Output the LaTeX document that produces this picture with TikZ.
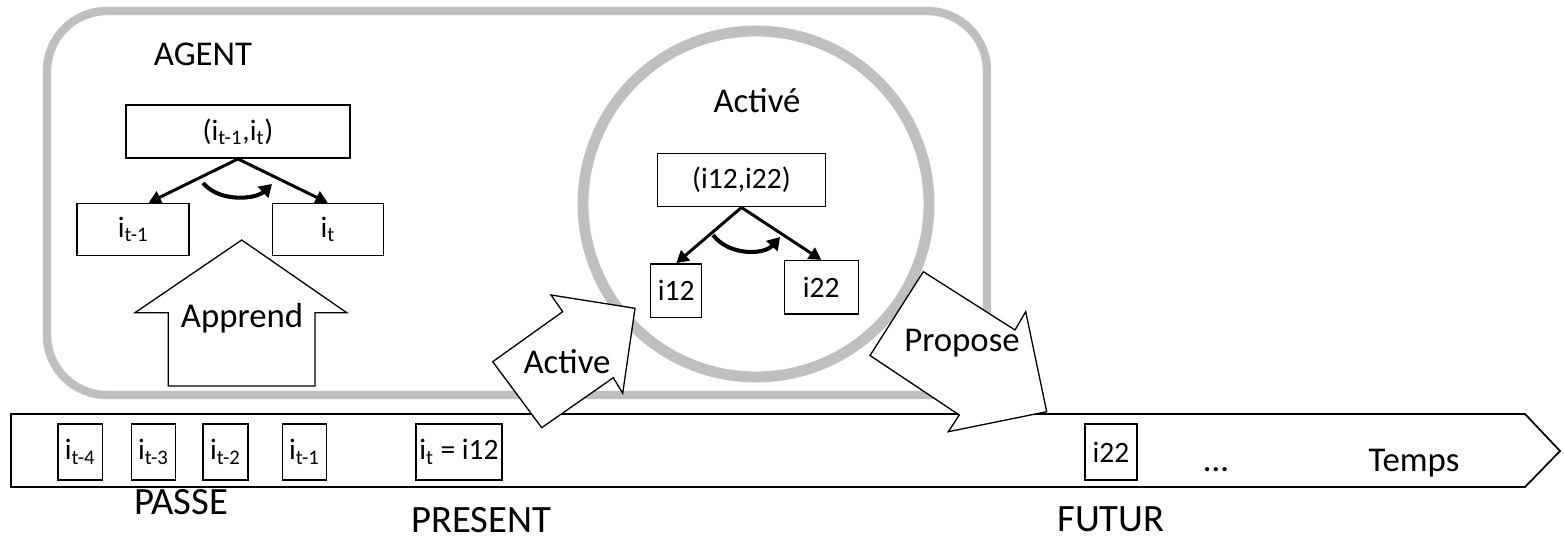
\documentclass[tikz,border=0pt]{standalone}
\usepackage{fontspec}
\setmainfont{Carlito}
\usetikzlibrary{arrows.meta, positioning, calc}

\begin{document}
\begin{tikzpicture}[
    x=0.02cm, y=-0.02cm,
    box/.style={draw, line width=0.85pt, inner sep=0pt, font=\fontsize{16.8}{19}\selectfont},
    title/.style={font=\fontsize{19.8}{23}\selectfont},
    era/.style={inner sep=0pt, font=\fontsize{22}{25}\selectfont},
    shell/.style={draw=black!25, line width=4.8pt},
    arr/.style={-{Triangle[length=7pt,width=7.5pt]}, line width=1.7pt},
    bendarr/.style={-{Triangle[length=7pt,width=8.5pt]}, line width=2.3pt},
    bigarrow/.style={draw, fill=white, line width=0.75pt, line join=miter}
]
\useasboundingbox (0,0) rectangle (1564,537);

% agent and activated pair
\draw[shell, rounded corners=1.2cm] (47,11) rectangle (987,395);
\draw[shell, line width=6.2pt] (756,204) circle[radius=173];
\node[title] (agent) at (203,54) {AGENT};
\node[title] (activated) at (757,101) {Activé};

% learned pair
\node[box, minimum width=4.48cm, minimum height=1.06cm] (pairA) at (238,131.7) {(i\textsubscript{t-1},i\textsubscript{t})};
\node[box, minimum width=2.24cm, minimum height=1.04cm] (prevA) at (133.2,229.5) {i\textsubscript{t-1}};
\node[box, minimum width=2.22cm, minimum height=1.04cm] (curA) at (327.8,229.5) {i\textsubscript{t}};
\draw[arr] (pairA.south) -- (prevA.60);
\draw[arr] (pairA.south) -- (curA.north);
\coordinate (bendA1) at (203,183);
\coordinate (bendA2) at (272,184);
\draw[bendarr] (bendA1) .. controls (220,203) and (256,199) .. (bendA2);

% activated pair
\node[box, minimum width=3.37cm, minimum height=1.07cm] (pairB) at (741.5,180) {(i12,i22)};
\node[box, minimum width=1.02cm, minimum height=1.07cm] (firstB) at (676.2,290.7) {i12};
\node[box, minimum width=1.48cm, minimum height=1.07cm] (secondB) at (821.3,287.4) {i22};
\draw[arr] (pairB.south) -- (firstB.north);
\draw[arr] (pairB.south) -- (secondB.north);
\coordinate (bendB1) at (713,235);
\coordinate (bendB2) at (780,237);
\draw[bendarr] (bendB1) .. controls (729,256) and (764,255) .. (bendB2);

% Apprend
\draw[bigarrow] (241.7,240) -- (346.7,312.7) -- (315,312.7) -- (315,386) -- (168.3,386)
    -- (168.3,312.7) -- (135,312.7) -- cycle;
\node[title] (learn) at (242,318) {Apprend};

% time line
\draw[line width=1pt] (11,414) -- (1525,414) -- (1560,451) -- (1525,487) -- (11,487) -- cycle;
\node[box, minimum width=0.89cm, minimum height=1.12cm] (past4) at (80.2,452) {i\textsubscript{t-4}};
\node[box, minimum width=0.88cm, minimum height=1.12cm, right=0.55cm of past4] (past3) {i\textsubscript{t-3}};
\node[box, minimum width=0.9cm, minimum height=1.12cm, right=0.52cm of past3] (past2) {i\textsubscript{t-2}};
\node[box, minimum width=0.88cm, minimum height=1.12cm, right=0.66cm of past2] (past1) {i\textsubscript{t-1}};
\node[box, minimum width=1.72cm, minimum height=1.12cm] (now) at (459,452) {i\textsubscript{t} = i12};
\node[box, minimum width=1.04cm, minimum height=1.12cm] (next) at (1111,452) {i22};
\node[title, anchor=base] (dots) at (1216,471) {...};
\node[title, anchor=base] (time) at (1414,471) {Temps};

\node[era] (past) at (181,502) {PASSE};
\node[era] (present) at (481,520) {PRESENT};
\node[era] (future) at (1111,519) {FUTUR};

% Active and Propose
\draw[bigarrow] (492.7,361.7) -- (562.7,311.7) -- (551,295) -- (635,308.3) -- (622.7,393.3)
    -- (613.3,377.7) -- (541.7,427.7) -- cycle;
\node[title] (activate) at (567,362) {Active};
\draw[bigarrow] (870,355.5) -- (923.3,271.7) -- (1015,330) -- (1025.7,311.7) -- (1046.7,411.7)
    -- (948.3,431.7) -- (959.3,415) -- cycle;
\node[title] (propose) at (962,343) {Propose};
\end{tikzpicture}
\end{document}
